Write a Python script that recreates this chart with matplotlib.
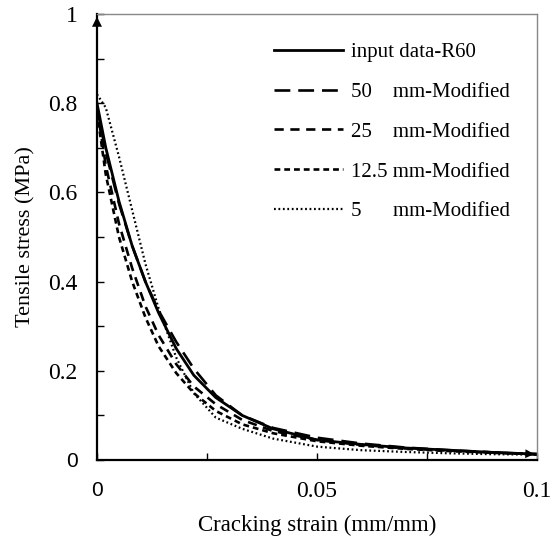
import matplotlib
matplotlib.use('Agg')
import matplotlib.pyplot as plt
from matplotlib.ticker import MultipleLocator
import numpy as np

plt.rcParams['font.family'] = ['Liberation Serif', 'DejaVu Serif']

# cracking strain (mm/mm)
strain = [0, 0.002, 0.005, 0.008, 0.011, 0.014, 0.018, 0.022, 0.027,
          0.033, 0.04, 0.05, 0.06, 0.07, 0.08, 0.09, 0.1]
# tensile stress (MPa)
input_r60 = [0.80, 0.70, 0.58, 0.48, 0.40, 0.33, 0.25, 0.19, 0.14,
             0.10, 0.07, 0.045, 0.035, 0.027, 0.022, 0.017, 0.013]
mod_50 = [0.79, 0.69, 0.575, 0.48, 0.40, 0.335, 0.265, 0.205, 0.145,
          0.10, 0.072, 0.05, 0.037, 0.028, 0.022, 0.017, 0.013]
mod_25 = [0.79, 0.66, 0.53, 0.43, 0.345, 0.28, 0.215, 0.165, 0.125,
          0.09, 0.065, 0.045, 0.034, 0.026, 0.021, 0.017, 0.013]
mod_125 = [0.78, 0.64, 0.50, 0.40, 0.32, 0.255, 0.195, 0.15, 0.11,
           0.08, 0.06, 0.042, 0.032, 0.025, 0.020, 0.016, 0.013]
mod_5 = [0.82, 0.79, 0.68, 0.56, 0.44, 0.34, 0.23, 0.15, 0.095,
         0.07, 0.048, 0.03, 0.022, 0.018, 0.015, 0.013, 0.012]

labels = ['input data-R60', '50    mm-Modified', '25    mm-Modified',
          '12.5 mm-Modified', '5      mm-Modified']
xticks = [0, 0.05, 0.1]
xtick_labels = ['0', '0.05', '0.1']
yticks = [0, 0.2, 0.4, 0.6, 0.8, 1.0]
ytick_labels = ['0', '0.2', '0.4', '0.6', '0.8', '1']

fig = plt.figure(figsize=(5.52, 5.42), dpi=100)
ax = fig.add_axes([0.1757, 0.1513, 0.7971, 0.8229])

ax.plot(strain, input_r60, color='k', lw=2.0, label=labels[0])
ax.plot(strain, mod_50, color='k', lw=1.9, dashes=(6, 3), label=labels[1])
ax.plot(strain, mod_25, color='k', lw=1.9, dashes=(3.5, 2.5), label=labels[2])
ax.plot(strain, mod_125, color='k', lw=1.9, dashes=(2.2, 1.5), label=labels[3])
ax.plot(strain, mod_5, color='k', lw=1.6, dashes=(0.8, 1.2), label=labels[4])

# arrow heads: end of curves and top of stress axis
ax.annotate('', xy=(strain[-1], input_r60[-1]),
            xytext=(strain[-2], input_r60[-2]),
            arrowprops=dict(arrowstyle='-|>', color='k', lw=0,
                            mutation_scale=16), annotation_clip=False)
ax.annotate('', xy=(0, 1.0), xytext=(0, 0.94),
            arrowprops=dict(arrowstyle='-|>', color='k', lw=0,
                            mutation_scale=18), annotation_clip=False)

ax.set_xlim(0, 0.1)
ax.set_ylim(0, 1)
ax.set_xticks(xticks)
ax.set_xticklabels(xtick_labels)
ax.xaxis.set_minor_locator(MultipleLocator(0.025))
ax.set_yticks(yticks)
ax.set_yticklabels(ytick_labels)
ax.yaxis.set_minor_locator(MultipleLocator(0.1))
ax.tick_params(which='both', direction='in', labelsize=17)
ax.tick_params(which='major', length=5, width=1)
ax.tick_params(which='minor', length=5, width=1)
ax.tick_params(axis='x', pad=15)
ax.tick_params(axis='y', pad=14)
for t in [ax.get_xticklabels()[0], ax.get_yticklabels()[0]]:
    t.set_family('Liberation Sans')
    t.set_fontsize(15)

for s in ['left', 'bottom']:
    ax.spines[s].set_linewidth(1.6)
for s in ['top', 'right']:
    ax.spines[s].set_color('#888888')
    ax.spines[s].set_linewidth(1.0)

ax.set_xlabel('Cracking strain (mm/mm)', fontsize=16.5, labelpad=9)
ax.set_ylabel('Tensile stress (MPa)', fontsize=16, labelpad=9)

ax.legend(loc='upper left', bbox_to_anchor=(0.36, 0.978), frameon=False,
          fontsize=15, handlelength=3.3, handletextpad=0.4,
          labelspacing=0.97)

fig.savefig('out.png', dpi=100)
